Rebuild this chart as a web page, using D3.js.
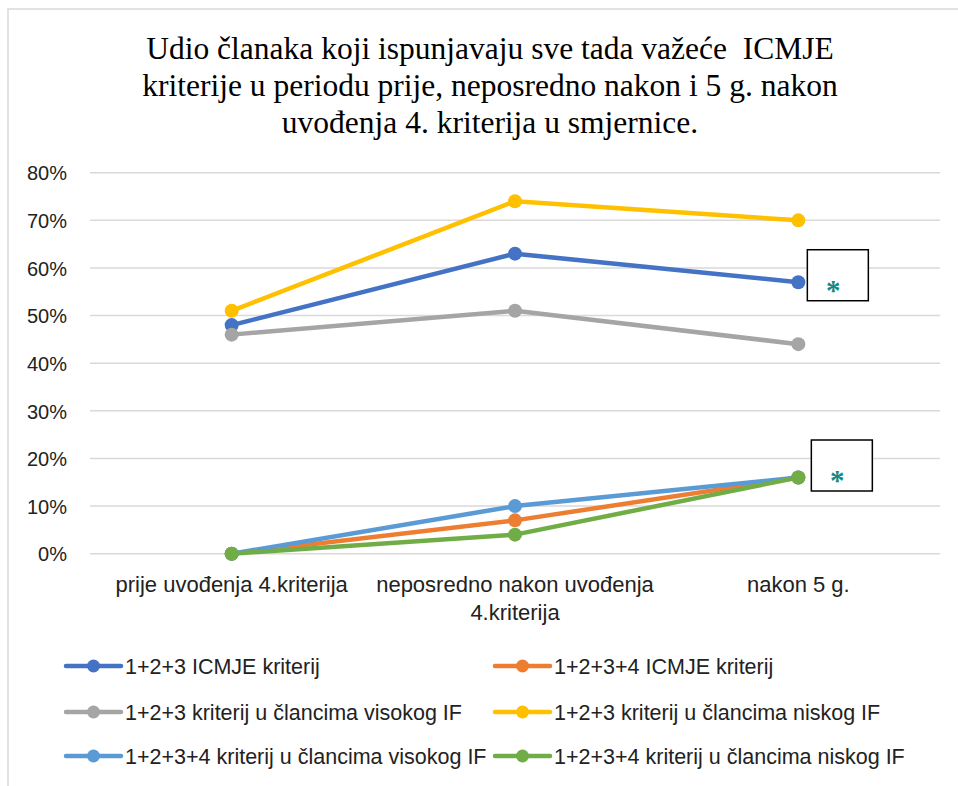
<!DOCTYPE html>
<html>
<head>
<meta charset="utf-8">
<script src="https://cdn.jsdelivr.net/npm/d3@7/dist/d3.min.js"></script>
<style>
  html, body { margin: 0; padding: 0; background: #fff; }
  svg { display: block; }
</style>
</head>
<body>
<div id="chart"></div>
<script>
// kategorije na x osi
const categories = ['prije uvođenja 4.kriterija', 'neposredno nakon uvođenja 4.kriterija', 'nakon 5 g.']
const categoryLines = [['prije uvođenja 4.kriterija'], ['neposredno nakon uvođenja', '4.kriterija'], ['nakon 5 g.']]

// serije (udio u %)
const seriesNames = [
  '1+2+3 ICMJE kriterij',
  '1+2+3+4 ICMJE kriterij',
  '1+2+3 kriterij u člancima visokog IF',
  '1+2+3 kriterij u člancima niskog IF',
  '1+2+3+4 kriterij u člancima visokog IF',
  '1+2+3+4 kriterij u člancima niskog IF'
]
const icmje123 = [48, 63, 57]
const icmje1234 = [0, 7, 16]
const visokog123 = [46, 51, 44]
const niskog123 = [51, 74, 70]
const visokog1234 = [0, 10, 16]
const niskog1234 = [0, 4, 16]
const seriesValues = [icmje123, icmje1234, visokog123, niskog123, visokog1234, niskog1234]
const seriesColors = ['#4472C4', '#ED7D31', '#A5A5A5', '#FFC000', '#5B9BD5', '#70AD47']

const yTicks = [0, 10, 20, 30, 40, 50, 60, 70, 80]

// oznake sa zvjezdicom (serija, kategorija)
const starSeries = [0, 5]
const starCategory = [2, 2]

const titleLines = [
  'Udio članaka koji ispunjavaju sve tada važeće  ICMJE',
  'kriterije u periodu prije, neposredno nakon i 5 g. nakon',
  'uvođenja 4. kriterija u smjernice.'
]

const width = 958
const height = 786
const plot = { left: 90, right: 940, top: 172.7, bottom: 553.7 }
const textFont = '"Liberation Sans", Arial, sans-serif'

const svg = d3.select('#chart').append('svg')
  .attr('width', width)
  .attr('height', height)

// okvir grafa
svg.append('rect')
  .attr('x', 8).attr('y', 9)
  .attr('width', 1000).attr('height', 1000)
  .attr('fill', '#fff')
  .attr('stroke', '#d9d9d9')
  .attr('stroke-width', 1.5)

// naslov
svg.append('g')
  .selectAll('text')
  .data(titleLines)
  .join('text')
  .attr('x', 490)
  .attr('y', (d, i) => 59 + i * 37)
  .attr('text-anchor', 'middle')
  .style('font', '31.5px "Liberation Serif", "Times New Roman", serif')
  .style('white-space', 'pre')
  .attr('fill', '#000')
  .text((d) => d)

const x = d3.scaleBand()
  .domain(categories)
  .range([plot.left, plot.right])

const xc = (i) => x(categories[i]) + x.bandwidth() / 2

const y = d3.scaleLinear()
  .domain([0, 80])
  .range([plot.bottom, plot.top])

// mreža
svg.append('g')
  .selectAll('line')
  .data(yTicks)
  .join('line')
  .attr('x1', plot.left)
  .attr('x2', plot.right)
  .attr('y1', (d) => y(d))
  .attr('y2', (d) => y(d))
  .attr('stroke', '#d9d9d9')
  .attr('stroke-width', 1.5)

// y os
const yAxis = svg.append('g')
  .attr('transform', `translate(${plot.left - 23},0)`)
  .call(d3.axisLeft(y).tickValues(yTicks).tickFormat((d) => d + '%').tickSize(0).tickPadding(0))
yAxis.select('.domain').remove()
yAxis.selectAll('text')
  .style('font', `20px ${textFont}`)
  .attr('fill', '#222')
  .attr('dy', '0.36em')

// x os
const xLabels = svg.append('g')
  .selectAll('text')
  .data(categoryLines)
  .join('text')
  .attr('x', (d, i) => xc(i))
  .attr('y', 592)
  .attr('text-anchor', 'middle')
  .style('font', `22px ${textFont}`)
  .attr('fill', '#222')
xLabels.selectAll('tspan')
  .data((d) => d)
  .join('tspan')
  .attr('x', function() { return d3.select(this.parentNode).attr('x') })
  .attr('dy', (d, i) => i === 0 ? 0 : 28)
  .text((d) => d)

// linije
const line = d3.line()
  .x((d, i) => xc(i))
  .y((d) => y(d))

const series = svg.append('g')
  .selectAll('g')
  .data(seriesValues)
  .join('g')

series.append('path')
  .attr('d', (d) => line(d))
  .attr('fill', 'none')
  .attr('stroke', (d, i) => seriesColors[i])
  .attr('stroke-width', 4.5)
  .attr('stroke-linejoin', 'round')
  .attr('stroke-linecap', 'round')

series.each(function(vals, si) {
  d3.select(this).selectAll('circle')
    .data(vals)
    .join('circle')
    .attr('cx', (d, i) => xc(i))
    .attr('cy', (d) => y(d))
    .attr('r', 7)
    .attr('fill', seriesColors[si])
})

// okviri sa zvjezdicom
const stars = svg.append('g')
  .selectAll('g')
  .data(starSeries)
  .join('g')
  .attr('transform', (s, i) => {
    const cx = xc(starCategory[i])
    const cy = y(seriesValues[s][starCategory[i]])
    return i === 0 ? `translate(${cx + 9},${cy - 32.5})` : `translate(${cx + 13},${cy - 37.5})`
  })

stars.append('rect')
  .attr('width', 61)
  .attr('height', 51)
  .attr('fill', '#fff')
  .attr('stroke', '#000')
  .attr('stroke-width', 1.5)

stars.append('text')
  .attr('x', 26)
  .attr('y', 50)
  .attr('text-anchor', 'middle')
  .style('font', 'bold 29px "Liberation Serif", "Times New Roman", serif')
  .attr('fill', '#0f8a8a')
  .text('*')

// legenda
const legend = svg.append('g')
  .selectAll('g')
  .data(seriesNames)
  .join('g')
  .attr('transform', (d, i) => `translate(${i % 2 === 0 ? 66 : 495},${[666, 712, 756][Math.floor(i / 2)]})`)

legend.append('line')
  .attr('x1', 0).attr('x2', 55)
  .attr('stroke', (d, i) => seriesColors[i])
  .attr('stroke-width', 4.5)
  .attr('stroke-linecap', 'round')

legend.append('circle')
  .attr('cx', 27.5)
  .attr('r', 6.5)
  .attr('fill', (d, i) => seriesColors[i])

legend.append('text')
  .attr('x', 59)
  .attr('dy', '0.36em')
  .style('font', `21.5px ${textFont}`)
  .attr('fill', '#222')
  .text((d) => d)
</script>
</body>
</html>
